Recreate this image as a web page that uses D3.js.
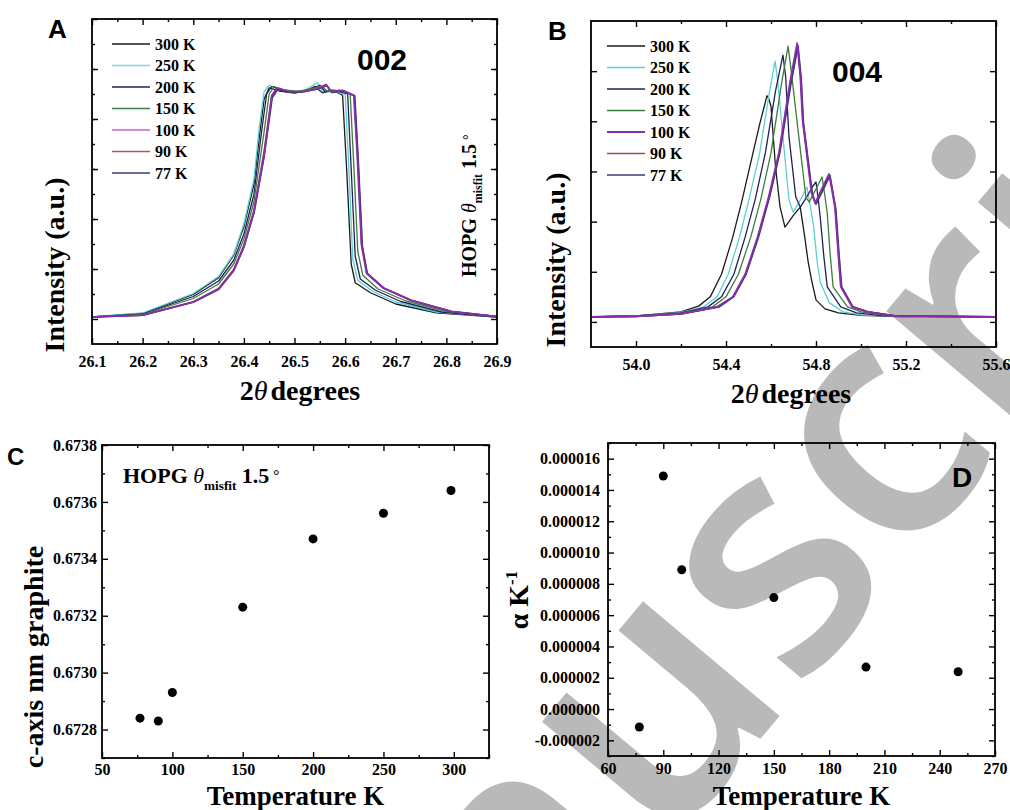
<!DOCTYPE html>
<html><head><meta charset="utf-8">
<script src="https://cdn.jsdelivr.net/npm/d3@7"></script>
<style>body{margin:0;background:#fff}svg{display:block}</style>
</head><body>
<svg id="chart" width="1010" height="810"></svg>
<script>
// ---------------- DATA ----------------
const legendLabels = ["300 K","250 K","200 K","150 K","100 K","90 K","77 K"];

// Panel A (002 reflection): [2theta (deg), intensity a.u.]
const a002_300K = [[26.10,0.08],[26.20,0.22],[26.30,0.98],[26.35,1.65],[26.38,2.55],[26.40,3.7],[26.42,5.4],[26.43,7.2],[26.44,8.8],[26.45,9.25],[26.47,9.12],[26.50,9.05],[26.52,9.1],[26.54,9.3],[26.555,9.05],[26.575,9.15],[26.595,8.95],[26.603,6.0],[26.612,2.2],[26.62,1.45],[26.65,1.05],[26.70,0.6],[26.78,0.25],[26.90,0.08]];
const a002_250K = [[26.10,0.08],[26.20,0.24],[26.30,1.02],[26.35,1.7],[26.38,2.6],[26.40,3.8],[26.42,5.6],[26.43,7.6],[26.44,9.1],[26.45,9.35],[26.47,9.2],[26.50,9.1],[26.52,9.15],[26.545,9.45],[26.555,9.1],[26.58,9.1],[26.60,9.0],[26.607,6.2],[26.615,2.4],[26.625,1.55],[26.655,1.1],[26.70,0.68],[26.78,0.28],[26.90,0.08]];
const a002_200K = [[26.10,0.08],[26.20,0.2],[26.30,0.9],[26.35,1.52],[26.38,2.35],[26.40,3.4],[26.42,5.0],[26.435,7.5],[26.445,9.0],[26.455,9.3],[26.48,9.1],[26.50,9.05],[26.525,9.15],[26.55,9.35],[26.56,9.1],[26.58,9.15],[26.605,9.0],[26.612,6.0],[26.62,2.5],[26.63,1.6],[26.66,1.15],[26.71,0.7],[26.79,0.28],[26.90,0.08]];
const a002_150K = [[26.10,0.08],[26.20,0.18],[26.30,0.82],[26.35,1.4],[26.38,2.2],[26.40,3.2],[26.42,4.7],[26.44,7.5],[26.45,9.0],[26.46,9.3],[26.48,9.15],[26.51,9.1],[26.53,9.2],[26.555,9.3],[26.565,9.1],[26.59,9.15],[26.61,9.0],[26.617,6.2],[26.625,2.7],[26.635,1.75],[26.665,1.2],[26.72,0.72],[26.80,0.3],[26.90,0.1]];
const a002_100K = [[26.10,0.08],[26.20,0.15],[26.30,0.68],[26.35,1.2],[26.38,1.95],[26.40,2.9],[26.42,4.3],[26.44,6.6],[26.455,8.9],[26.465,9.25],[26.49,9.1],[26.52,9.1],[26.545,9.2],[26.562,9.38],[26.572,9.1],[26.595,9.15],[26.617,8.95],[26.624,6.5],[26.632,3.0],[26.642,1.85],[26.675,1.25],[26.73,0.75],[26.81,0.3],[26.90,0.1]];
const a002_90K  = [[26.10,0.08],[26.20,0.15],[26.30,0.69],[26.35,1.22],[26.38,1.98],[26.40,2.95],[26.42,4.35],[26.44,6.7],[26.455,8.95],[26.466,9.22],[26.49,9.08],[26.52,9.12],[26.545,9.22],[26.563,9.36],[26.573,9.08],[26.596,9.13],[26.618,8.94],[26.625,6.4],[26.633,2.95],[26.643,1.83],[26.676,1.24],[26.73,0.76],[26.81,0.31],[26.90,0.1]];
const a002_77K  = [[26.10,0.08],[26.20,0.15],[26.30,0.67],[26.35,1.18],[26.38,1.93],[26.40,2.87],[26.42,4.25],[26.44,6.5],[26.456,8.85],[26.467,9.2],[26.49,9.06],[26.52,9.1],[26.546,9.2],[26.564,9.34],[26.574,9.06],[26.597,9.12],[26.619,8.92],[26.626,6.3],[26.634,2.9],[26.644,1.8],[26.677,1.22],[26.73,0.74],[26.81,0.3],[26.90,0.1]];

// Panel B (004 reflection)
const b004_300K = [[53.80,0.1],[54.00,0.12],[54.20,0.2],[54.28,0.32],[54.33,0.5],[54.38,0.95],[54.43,1.69],[54.47,2.4],[54.52,3.37],[54.55,3.95],[54.582,4.51],[54.59,4.45],[54.60,4.3],[54.62,3.09],[54.64,2.3],[54.662,1.89],[54.68,2.0],[54.70,2.13],[54.73,2.29],[54.75,1.69],[54.765,1.2],[54.78,0.84],[54.80,0.44],[54.84,0.26],[54.90,0.18],[55.00,0.13],[55.20,0.1],[55.60,0.1]];
const b004_250K = [[53.80,0.1],[54.00,0.12],[54.20,0.19],[54.30,0.3],[54.36,0.5],[54.41,0.95],[54.46,1.69],[54.50,2.4],[54.55,3.37],[54.59,4.5],[54.618,5.2],[54.63,4.8],[54.65,3.83],[54.68,2.43],[54.698,2.19],[54.72,2.35],[54.745,2.55],[54.76,2.69],[54.775,2.3],[54.79,1.89],[54.805,1.2],[54.82,0.78],[54.86,0.38],[54.92,0.2],[55.00,0.14],[55.20,0.1],[55.60,0.1]];
const b004_200K = [[53.80,0.1],[54.00,0.12],[54.20,0.18],[54.32,0.3],[54.38,0.5],[54.435,0.95],[54.485,1.69],[54.53,2.45],[54.575,3.37],[54.62,4.6],[54.653,5.32],[54.665,4.9],[54.68,3.69],[54.71,2.49],[54.73,2.29],[54.76,2.5],[54.785,2.7],[54.80,2.79],[54.81,2.45],[54.82,2.03],[54.835,1.3],[54.85,0.7],[54.91,0.3],[54.98,0.18],[55.10,0.12],[55.60,0.1]];
const b004_150K = [[53.80,0.1],[54.00,0.12],[54.20,0.17],[54.34,0.3],[54.40,0.5],[54.455,0.95],[54.51,1.69],[54.555,2.45],[54.60,3.37],[54.645,4.7],[54.676,5.5],[54.69,5.0],[54.72,3.83],[54.755,2.49],[54.77,2.39],[54.80,2.65],[54.827,2.89],[54.84,2.5],[54.85,2.17],[54.862,1.4],[54.876,0.7],[54.94,0.3],[55.00,0.2],[55.12,0.12],[55.60,0.1]];
const b004_100K = [[53.80,0.1],[54.00,0.11],[54.20,0.16],[54.36,0.3],[54.43,0.5],[54.485,0.95],[54.54,1.69],[54.59,2.5],[54.635,3.37],[54.685,4.8],[54.716,5.56],[54.73,4.9],[54.74,4.03],[54.78,2.57],[54.796,2.37],[54.83,2.7],[54.858,2.95],[54.872,2.6],[54.884,2.29],[54.898,1.4],[54.91,0.7],[54.96,0.3],[55.03,0.2],[55.15,0.12],[55.60,0.1]];
const b004_90K  = [[53.80,0.1],[54.00,0.11],[54.20,0.16],[54.36,0.3],[54.432,0.5],[54.487,0.95],[54.542,1.69],[54.592,2.5],[54.637,3.37],[54.687,4.78],[54.718,5.52],[54.732,4.88],[54.742,4.0],[54.782,2.55],[54.798,2.36],[54.832,2.68],[54.86,2.93],[54.874,2.58],[54.886,2.27],[54.9,1.38],[54.912,0.7],[54.962,0.3],[55.03,0.2],[55.15,0.12],[55.60,0.1]];
const b004_77K  = [[53.80,0.1],[54.00,0.11],[54.20,0.16],[54.37,0.3],[54.434,0.5],[54.489,0.95],[54.544,1.69],[54.594,2.5],[54.639,3.37],[54.689,4.76],[54.72,5.5],[54.734,4.86],[54.744,3.98],[54.784,2.54],[54.8,2.35],[54.834,2.66],[54.862,2.92],[54.876,2.56],[54.888,2.25],[54.902,1.36],[54.914,0.7],[54.964,0.3],[55.03,0.2],[55.15,0.12],[55.60,0.1]];

// Panel C: c-axis lattice parameter vs temperature
const tempC = [77, 90, 100, 150, 200, 250, 298];
const cAxisNm = [0.67284, 0.67283, 0.67293, 0.67323, 0.67347, 0.67356, 0.67364];

// Panel D: thermal expansion coefficient vs temperature
const tempD = [77, 90, 100, 150, 200, 250];
const alphaK = [-1.15e-6, 14.89e-6, 8.9e-6, 7.12e-6, 2.68e-6, 2.38e-6];

// Tick values
const ticksA_x = [26.1,26.2,26.3,26.4,26.5,26.6,26.7,26.8,26.9];
const ticksB_x = [54.0,54.4,54.8,55.2,55.6];
const ticksC_x = [50,100,150,200,250,300];
const ticksC_y = [0.6728,0.6730,0.6732,0.6734,0.6736,0.6738];
const ticksD_x = [60,90,120,150,180,210,240,270];
const ticksD_y = [-0.000002,0,0.000002,0.000004,0.000006,0.000008,0.000010,0.000012,0.000014,0.000016];

// ---------------- STYLE ----------------
const seriesColors = ["#1a1a1a","#5ccfd6","#20205c","#3d7d3d","#8e2cae","#9a5050","#3b3b78"];
const legendColorsA = ["#1a1a1a","#7fd8dc","#20205c","#3d7d3d","#c864c8","#a06060","#3b3b78"];
const SERIF = "'Liberation Serif','Times New Roman',serif";
const SANS = "'Liberation Sans',Arial,sans-serif";

const svg = d3.select("#chart");
svg.append("rect").attr("width",1010).attr("height",810).attr("fill","#fff");

// background watermark of the source page
svg.append("text").attr("transform","translate(209,1396) rotate(-50)")
  .attr("font-family","'Open Sans',sans-serif").attr("font-weight",600).attr("font-size",330)
  .attr("fill","#b9b9b9").text("Manuscript");

function range(a,b,s){const r=[];for(let v=a;v<=b+s*1e-6;v+=s)r.push(+v.toFixed(10));return r;}

function axes(g, x, y, o){
  const [x0,x1]=x.range(), [y0,y1]=y.range();
  const style = sel=>{sel.select(".domain").remove();
    sel.selectAll(".tick line").attr("stroke","#000").attr("stroke-width",1.4);
    sel.selectAll("text").attr("font-family",SERIF).attr("font-weight","bold").attr("font-size",16).attr("fill","#000");};
  const none=()=>"";
  g.append("g").attr("transform",`translate(0,${y0})`).call(d3.axisBottom(x).tickValues(o.xMinor).tickSize(-3).tickFormat(none)).call(style);
  g.append("g").attr("transform",`translate(0,${y1})`).call(d3.axisTop(x).tickValues(o.xMinor).tickSize(-3).tickFormat(none)).call(style);
  g.append("g").attr("transform",`translate(${x0},0)`).call(d3.axisLeft(y).tickValues(o.yMinor).tickSize(-3).tickFormat(none)).call(style);
  g.append("g").attr("transform",`translate(${x1},0)`).call(d3.axisRight(y).tickValues(o.yMinor).tickSize(-3).tickFormat(none)).call(style);
  g.append("g").attr("transform",`translate(0,${y0})`).call(d3.axisBottom(x).tickValues(o.xMajor).tickSize(-6).tickPadding(o.xPad).tickFormat(o.xFmt||none)).call(style);
  g.append("g").attr("transform",`translate(0,${y1})`).call(d3.axisTop(x).tickValues(o.xMajor).tickSize(-6).tickFormat(none)).call(style);
  g.append("g").attr("transform",`translate(${x0},0)`).call(d3.axisLeft(y).tickValues(o.yMajor).tickSize(-6).tickPadding(o.yPad||4).tickFormat(o.yFmt||none)).call(style);
  g.append("g").attr("transform",`translate(${x1},0)`).call(d3.axisRight(y).tickValues(o.yMajor).tickSize(-6).tickFormat(none)).call(style);
  g.append("rect").attr("x",x0).attr("y",y1).attr("width",x1-x0).attr("height",y0-y1)
    .attr("fill","none").attr("stroke","#000").attr("stroke-width",1.8);
}

function boldText(x,y,txt,size,font,anchor){
  return svg.append("text").attr("x",x).attr("y",y).attr("font-family",font||SANS).attr("font-weight","bold")
    .attr("font-size",size).attr("text-anchor",anchor||"start").attr("fill","#000").text(txt);
}
function twoTheta(cx,cy){
  const t=svg.append("text").attr("x",cx).attr("y",cy).attr("text-anchor","middle").attr("font-family",SERIF)
    .attr("font-weight","bold").attr("font-size",28);
  t.append("tspan").text("2");
  t.append("tspan").attr("font-style","italic").attr("font-weight","normal").text("θ");
  t.append("tspan").attr("dx",3).text("degrees");
}
function yTitle(cx,cy,txt){
  svg.append("text").attr("transform",`translate(${cx},${cy}) rotate(-90)`).attr("text-anchor","middle")
    .attr("font-family",SERIF).attr("font-weight","bold").attr("font-size",28).text(txt);
}
function xTitle(cx,cy,txt){
  svg.append("text").attr("x",cx).attr("y",cy).attr("text-anchor","middle").attr("font-family",SERIF)
    .attr("font-weight","bold").attr("font-size",27).text(txt);
}
function hopg(sel,size){
  sel.attr("font-family",SERIF).attr("font-weight","bold").attr("font-size",size);
  sel.append("tspan").text("HOPG ");
  sel.append("tspan").attr("font-style","italic").attr("font-weight","normal").text("θ");
  sel.append("tspan").attr("font-size",size*0.6).attr("dy",size*0.3).text("misfit");
  sel.append("tspan").attr("dy",-size*0.3).text(" 1.5");
  sel.append("tspan").attr("font-size",size*0.7).attr("dx",4).attr("dy",-size*0.15).text("°");
}
function legend(x0,yTop,colors,thick){
  legendLabels.forEach((l,i)=>{
    const yy=yTop+i*21.5;
    svg.append("line").attr("x1",x0).attr("x2",x0+38).attr("y1",yy).attr("y2",yy)
      .attr("stroke",colors[i]).attr("stroke-width",(thick&&i===4)?2.2:1.5);
    boldText(x0+43,yy+5.5,l,16,SERIF);
  });
}

// ---------------- PANEL A ----------------
{
  const x=d3.scaleLinear().domain([26.1,26.9]).range([92,497]);
  const y=d3.scaleLinear().domain([-1,12]).range([344,19]);
  const g=svg.append("g");
  const A=[a002_300K,a002_250K,a002_200K,a002_150K,a002_100K,a002_90K,a002_77K];
  const order=[0,1,2,3,5,6,4];
  const line=d3.line().x(d=>x(d[0])).y(d=>y(d[1]));
  order.forEach(i=>g.append("path").attr("d",line(A[i])).attr("fill","none")
    .attr("stroke",seriesColors[i]).attr("stroke-width",i>=4?1.7:1.3).attr("stroke-linejoin","round"));
  axes(g,x,y,{xMajor:ticksA_x,xMinor:range(26.15,26.85,0.1),xFmt:d3.format(".1f"),xPad:12,
    yMajor:range(0,12,2),yMinor:range(1,11,1)});
  legend(112,44,legendColorsA,false);
  boldText(357,70,"002",30,SANS);
  boldText(48,38,"A",26,SANS);
  hopg(svg.append("text").attr("transform","translate(476,277) rotate(-90)"),20);
  twoTheta(300,400);
  yTitle(64,265,"Intensity (a.u.)");
}

// ---------------- PANEL B ----------------
{
  const x=d3.scaleLinear().domain([53.8,55.6]).range([591,996]);
  const y=d3.scaleLinear().domain([-0.5,6]).range([347,21]);
  const g=svg.append("g");
  const B=[b004_300K,b004_250K,b004_200K,b004_150K,b004_100K,b004_90K,b004_77K];
  const order=[0,1,2,3,5,6,4];
  const line=d3.line().x(d=>x(d[0])).y(d=>y(d[1]));
  order.forEach(i=>g.append("path").attr("d",line(B[i])).attr("fill","none")
    .attr("stroke",seriesColors[i]).attr("stroke-width",i>=4?1.7:1.3).attr("stroke-linejoin","round"));
  axes(g,x,y,{xMajor:ticksB_x,xMinor:range(54.2,55.4,0.4),xFmt:d3.format(".1f"),xPad:12,
    yMajor:range(0,5,1),yMinor:[]});
  legend(607,46,seriesColors,true);
  boldText(832,82,"004",30,SANS);
  boldText(548,40,"B",26,SANS);
  twoTheta(791,403);
  yTitle(565,260,"Intensity (a.u.)");
}

// ---------------- PANEL C ----------------
{
  const x=d3.scaleLinear().domain([50,325]).range([102,489]);
  const y=d3.scaleLinear().domain([0.6727,0.6738]).range([758,445]);
  const g=svg.append("g");
  axes(g,x,y,{xMajor:ticksC_x,xMinor:range(75,325,50),xFmt:d3.format("d"),xPad:6,
    yMajor:ticksC_y,yMinor:range(0.6727,0.6737,0.0002),yFmt:d3.format(".4f"),yPad:5});
  g.selectAll("circle.c").data(tempC).enter().append("circle")
    .attr("cx",d=>x(d)).attr("cy",(d,i)=>y(cAxisNm[i])).attr("r",4.5).attr("fill","#000");
  boldText(7,465,"C",24,SANS);
  hopg(svg.append("text").attr("x",123).attr("y",483),22);
  xTitle((102+489)/2,805,"Temperature K");
  yTitle(43,657,"c-axis nm graphite");
}

// ---------------- PANEL D ----------------
{
  const x=d3.scaleLinear().domain([60,270]).range([608,995]);
  const y=d3.scaleLinear().domain([-0.000003,0.000017]).range([756,443]);
  const g=svg.append("g");
  const fmt=v=>(v<-1e-12?"-":"")+Math.abs(v).toFixed(6);
  axes(g,x,y,{xMajor:ticksD_x,xMinor:range(75,255,30),xFmt:d3.format("d"),xPad:7,
    yMajor:ticksD_y,yMinor:range(-0.000003,0.000017,0.000002),yFmt:fmt,yPad:8});
  g.selectAll("circle.d").data(tempD).enter().append("circle")
    .attr("cx",d=>x(d)).attr("cy",(d,i)=>y(alphaK[i])).attr("r",4.5).attr("fill","#000");
  boldText(952,487,"D",28,SANS);
  xTitle((608+995)/2,805,"Temperature K");
  const t=svg.append("text").attr("transform","translate(528,600) rotate(-90)").attr("text-anchor","middle")
    .attr("font-family",SERIF).attr("font-weight","bold").attr("font-size",28);
  t.append("tspan").text("α K");
  t.append("tspan").attr("font-size",17).attr("dy",-11).text("-1");
}
</script>
</body></html>
